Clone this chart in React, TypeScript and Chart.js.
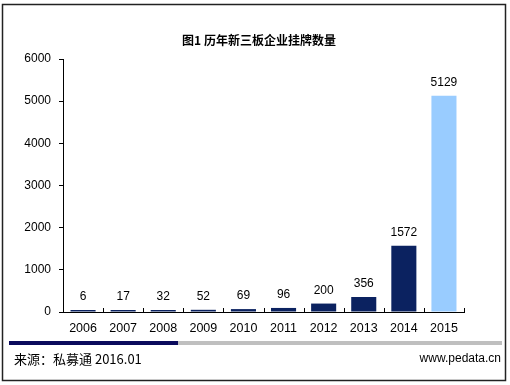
import React, { useEffect, useRef } from "react";
import { Chart, registerables } from "chart.js";

Chart.register(...registerables);

const years = ["2006", "2007", "2008", "2009", "2010", "2011", "2012", "2013", "2014", "2015"];
const listings = [6, 17, 32, 52, 69, 96, 200, 356, 1572, 5129];
const barColors = ["#0B2260", "#0B2260", "#0B2260", "#0B2260", "#0B2260", "#0B2260", "#0B2260", "#0B2260", "#0B2260", "#99CCFF"];
const yTicks = [0, 1000, 2000, 3000, 4000, 5000, 6000];
const titleText = "图1 历年新三板企业挂牌数量";
const sourceText = "来源：私募通 2016.01";
const urlText = "www.pedata.cn";

const FONT = "'Liberation Sans', Arial, 'Noto Sans CJK SC', sans-serif";

const decorPlugin = {
  id: "decor",
  afterDraw(chart: any) {
    const ctx = chart.ctx as CanvasRenderingContext2D;
    const xs = chart.scales.x;
    const area = chart.chartArea;
    ctx.save();
    // frame
    ctx.strokeStyle = "#222";
    ctx.lineWidth = 1.5;
    ctx.strokeRect(2.5, 4.5, 503, 376);
    // title
    ctx.fillStyle = "#000";
    ctx.font = `bold 12px 'Noto Sans CJK SC', ${FONT}`;
    ctx.textAlign = "center";
    ctx.textBaseline = "middle";
    ctx.fillText(titleText, 259, 40);
    // inward ticks on x axis at category boundaries
    ctx.strokeStyle = "#000";
    ctx.lineWidth = 1;
    const n = years.length;
    for (let i = 1; i <= n; i++) {
      const left = xs.getPixelForValue(i - 1);
      const right = i < n ? xs.getPixelForValue(i) : left + (left - xs.getPixelForValue(i - 2));
      const bx = Math.round((left + right) / 2) + 0.5;
      ctx.beginPath();
      ctx.moveTo(bx, area.bottom);
      ctx.lineTo(bx, area.bottom - 4);
      ctx.stroke();
    }
    // value labels
    const meta = chart.getDatasetMeta(0);
    ctx.font = `12px ${FONT}`;
    ctx.fillStyle = "#000";
    ctx.textAlign = "center";
    ctx.textBaseline = "middle";
    meta.data.forEach((bar: any, i: number) => {
      ctx.fillText(String(listings[i]), bar.x, bar.y - 13);
    });
    // bottom bands
    ctx.fillStyle = "#BFBFBF";
    ctx.fillRect(178, 341, 324, 4);
    ctx.fillStyle = "#0A0A5C";
    ctx.fillRect(9, 341, 169, 4);
    // footer text
    ctx.fillStyle = "#000";
    ctx.font = `13px 'Noto Sans CJK SC', ${FONT}`;
    ctx.textAlign = "left";
    ctx.fillText(sourceText, 14, 359);
    ctx.font = `12px ${FONT}`;
    ctx.textAlign = "right";
    ctx.fillText(urlText, 501, 359);
    ctx.restore();
  },
};

export default function App() {
  const ref = useRef<HTMLCanvasElement>(null);
  useEffect(() => {
    if (!ref.current) return;
    const chart = new Chart(ref.current, {
      type: "bar",
      data: {
        labels: years,
        datasets: [
          {
            data: listings,
            backgroundColor: barColors,
            borderWidth: 0,
            barPercentage: 1,
            categoryPercentage: 0.625,
            minBarLength: 2,
          },
        ],
      },
      options: {
        responsive: false,
        animation: false,
        devicePixelRatio: 1,
        layout: { padding: { left: 0, right: 46, top: 59, bottom: 43 } },
        plugins: { legend: { display: false }, tooltip: { enabled: false }, title: { display: false } },
        scales: {
          x: {
            grid: { display: false },
            border: { display: true, color: "#000", width: 1 },
            ticks: { color: "#000", font: { family: FONT, size: 12.5 }, padding: 1, maxRotation: 0 },
            afterFit(s: any) {
              s.height = 30;
            },
          },
          y: {
            min: 0,
            max: 6000,
            afterBuildTicks(s: any) {
              s.ticks = yTicks.map((v) => ({ value: v }));
            },
            grid: { display: true, drawOnChartArea: false, drawTicks: true, tickLength: 4, color: "#000" },
            border: { display: true, color: "#000", width: 1 },
            ticks: {
              color: "#000",
              font: { family: FONT, size: 12 },
              padding: 8,
              callback: (v: any) => String(v),
            },
            afterFit(s: any) {
              s.width = 63;
            },
          },
        },
      },
      plugins: [decorPlugin],
    });
    return () => chart.destroy();
  }, []);
  return (
    <div style={{ position: "fixed", left: 0, top: 0, width: 510, height: 385, background: "#fff" }}>
      <canvas ref={ref} width={510} height={385} style={{ display: "block" }} />
    </div>
  );
}
